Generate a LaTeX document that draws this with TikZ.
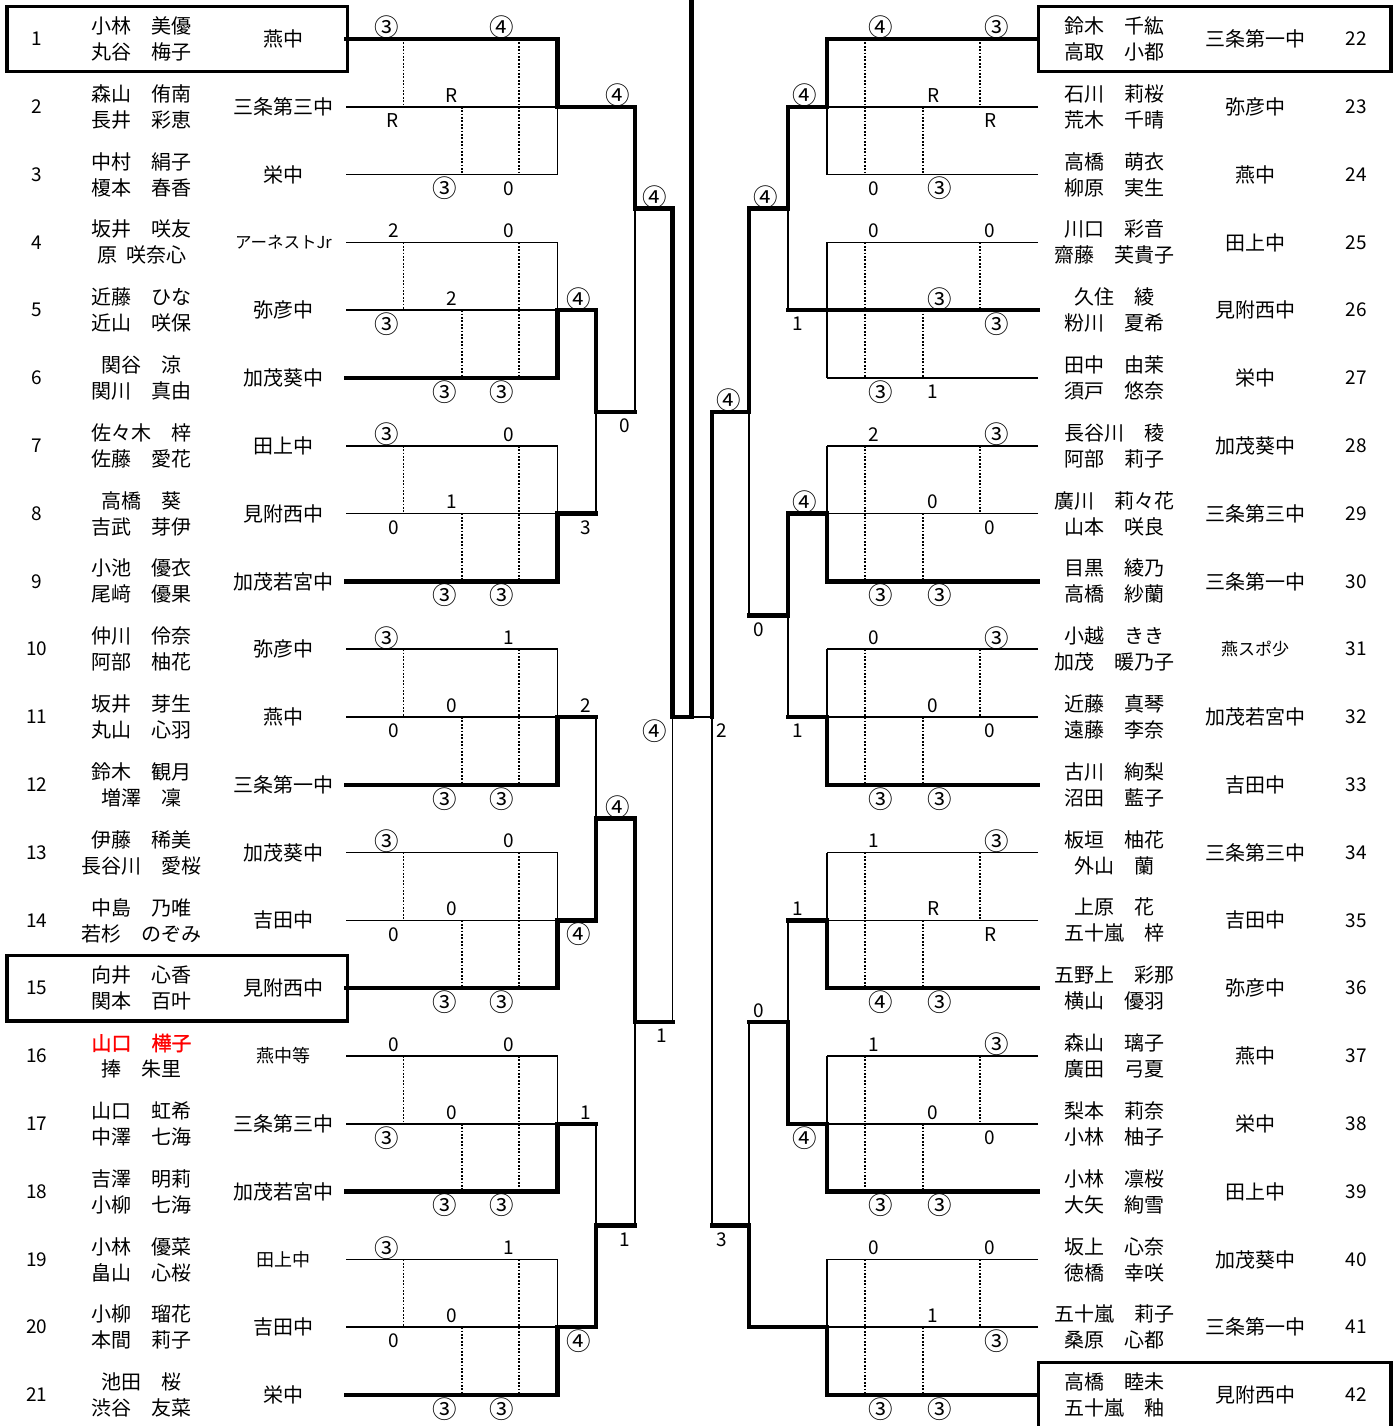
\documentclass[tikz,border=0pt]{standalone}
\usepackage{fontspec}
\setmainfont{Noto Sans CJK JP}
\newfontfamily\redfont[FakeBold=1.2]{Noto Sans CJK JP}
\newcommand\redname{\color{red}\redfont}
\newcommand\CThree{{\fontsize{24.5}{24.5}\selectfont ③}}
\newcommand\CFour{{\fontsize{24.5}{24.5}\selectfont ④}}
\tikzset{
  thinln/.style={line width=1.5pt},
  winln/.style={line width=4.5pt, line join=miter, line cap=rect},
  dotln/.style={line width=1.6pt, dash pattern=on 1.8pt off 1.6pt},
  boxln/.style={line width=3.2pt},
  namest/.style={align=center, font=\fontsize{20}{26}\selectfont, inner sep=0pt},
  schoolst/.style={font=\fontsize{20}{20}\selectfont, inner sep=0pt},
  numst/.style={font=\fontsize{19}{19}\selectfont, inner sep=0pt},
  scL/.style={anchor=east, font=\fontsize{19}{19}\selectfont, inner sep=0pt},
  scR/.style={anchor=west, font=\fontsize{19}{19}\selectfont, inner sep=0pt},
}
% left group: #1 top row, #2 t1, #3 t3, #4 m2, #5 m1, #6 b2, #7 b3
\newcommand\BrL[7]{%
  \pgfmathsetmacro\ya{39+(#1-1)*67.8}%
  \pgfmathsetmacro\yb{\ya+67.8}%
  \pgfmathsetmacro\yc{\ya+135.6}%
  \draw[thinln] (346,\ya) -- (557.5,\ya) (346,\yb) -- (557.5,\yb) (346,\yc) -- (557.5,\yc) (557.5,\ya) -- (557.5,\yc);
  \draw[dotln] (403.5,\ya) -- (403.5,\yb) (462,\yb) -- (462,\yc) (519,\ya) -- (519,\yc);
  \node[scL] (gL#1a) at (399,\ya-11.5) {#2};
  \node[scL] (gL#1b) at (514.5,\ya-11.5) {#3};
  \node[scL] (gL#1c) at (457.5,\yb-11.5) {#4};
  \node[scL] (gL#1d) at (399,\yb+14) {#5};
  \node[scL] (gL#1e) at (457.5,\yc+14) {#6};
  \node[scL] (gL#1f) at (514.5,\yc+14) {#7};
}
\newcommand\BrR[7]{%
  \pgfmathsetmacro\ya{39+(#1-22)*67.8}%
  \pgfmathsetmacro\yb{\ya+67.8}%
  \pgfmathsetmacro\yc{\ya+135.6}%
  \draw[thinln] (1038,\ya) -- (827,\ya) (1038,\yb) -- (827,\yb) (1038,\yc) -- (827,\yc) (827,\ya) -- (827,\yc);
  \draw[dotln] (980,\ya) -- (980,\yb) (923,\yb) -- (923,\yc) (865,\ya) -- (865,\yc);
  \node[scR] (gR#1a) at (984,\ya-11.5) {#2};
  \node[scR] (gR#1b) at (868.5,\ya-11.5) {#3};
  \node[scR] (gR#1c) at (927,\yb-11.5) {#4};
  \node[scR] (gR#1d) at (984,\yb+14) {#5};
  \node[scR] (gR#1e) at (927,\yc+14) {#6};
  \node[scR] (gR#1f) at (868.5,\yc+14) {#7};
}
\begin{document}
\begin{tikzpicture}[x=1pt,y=-1pt]
\useasboundingbox (0,0) rectangle (1398,1426);
% ---------- entries left
\foreach \n/\nmA/\nmB/\schl in {
1/小林　美優/丸谷　梅子/燕中,
2/森山　侑南/長井　彩恵/三条第三中,
3/中村　絹子/榎本　春香/栄中,
4/坂井　咲友/{{原\hspace{0.45em}咲奈心}}/{{\fontsize{16.5}{16.5}\selectfont アーネストJr}},
5/近藤　ひな/近山　咲保/弥彦中,
6/関谷　涼/関川　真由/加茂葵中,
7/佐々木　梓/佐藤　愛花/田上中,
8/高橋　葵/吉武　芽伊/見附西中,
9/小池　優衣/尾﨑　優果/加茂若宮中,
10/仲川　伶奈/阿部　柚花/弥彦中,
11/坂井　芽生/丸山　心羽/燕中,
12/鈴木　観月/増澤　凜/三条第一中,
13/伊藤　稀美/長谷川　愛桜/加茂葵中,
14/中島　乃唯/若杉　のぞみ/吉田中,
15/向井　心香/関本　百叶/見附西中,
16/{{\redname 山口　樺子}}/捧　朱里/{{\fontsize{18}{18}\selectfont 燕中等}},
17/山口　虹希/中澤　七海/三条第三中,
18/吉澤　明莉/小柳　七海/加茂若宮中,
19/小林　優菜/畠山　心桜/{{\fontsize{18}{18}\selectfont 田上中}},
20/小柳　瑠花/本間　莉子/吉田中,
21/池田　桜/渋谷　友菜/栄中}{
  \pgfmathsetmacro\y{39+(\n-1)*67.8}
  \node[numst] (num\n) at (37,\y) {\n};
  \node[namest] (name\n) at (141.5,\y) {\nmA\\\nmB};
  \node[schoolst] (sch\n) at (283.5,\y) {\schl};
}
% ---------- entries right
\foreach \n/\nmA/\nmB/\schl in {
22/鈴木　千紘/高取　小都/三条第一中,
23/石川　莉桜/荒木　千晴/弥彦中,
24/高橋　萌衣/柳原　実生/燕中,
25/川口　彩音/齋藤　芙貴子/田上中,
26/久住　綾/粉川　夏希/見附西中,
27/田中　由茉/須戸　悠奈/栄中,
28/長谷川　稜/阿部　莉子/加茂葵中,
29/廣川　莉々花/山本　咲良/三条第三中,
30/目黒　綾乃/高橋　紗蘭/三条第一中,
31/小越　きき/加茂　暖乃子/{{\fontsize{17}{17}\selectfont 燕スポ少}},
32/近藤　真琴/遠藤　李奈/加茂若宮中,
33/古川　絢梨/沼田　藍子/吉田中,
34/板垣　柚花/外山　蘭/三条第三中,
35/上原　花/五十嵐　梓/吉田中,
36/五野上　彩那/横山　優羽/弥彦中,
37/森山　璃子/廣田　弓夏/燕中,
38/梨本　莉奈/小林　柚子/栄中,
39/小林　凛桜/大矢　絢雪/田上中,
40/坂上　心奈/徳橋　幸咲/加茂葵中,
41/五十嵐　莉子/桑原　心都/三条第一中,
42/高橋　睦未/五十嵐　釉/見附西中}{
  \pgfmathsetmacro\y{39+(\n-22)*67.8}
  \node[numst] (num\n) at (1356,\y) {\n};
  \node[namest] (name\n) at (1114,\y) {\nmA\\\nmB};
  \node[schoolst] (sch\n) at (1255,\y) {\schl};
}
% ---------- boxes
\draw[boxln] (7,6.5) rectangle (347.5,71.5);
\draw[boxln] (7,955.5) rectangle (347.5,1021);
\draw[boxln] (1038.5,6.5) rectangle (1391,71.5);
\draw[boxln] (1038.5,1432) -- (1038.5,1362.5) -- (1391,1362.5) -- (1391,1432);
% ---------- groups
\BrL{1}{\CThree}{\CFour}{R}{R}{\CThree}{0}
\BrL{4}{2}{0}{2}{\CThree}{\CThree}{\CThree}
\BrL{7}{\CThree}{0}{1}{0}{\CThree}{\CThree}
\BrL{10}{\CThree}{1}{0}{0}{\CThree}{\CThree}
\BrL{13}{\CThree}{0}{0}{0}{\CThree}{\CThree}
\BrL{16}{0}{0}{0}{\CThree}{\CThree}{\CThree}
\BrL{19}{\CThree}{1}{0}{0}{\CThree}{\CThree}
\BrR{22}{\CThree}{\CFour}{R}{R}{\CThree}{0}
\BrR{25}{0}{0}{\CThree}{\CThree}{1}{\CThree}
\BrR{28}{\CThree}{2}{0}{0}{\CThree}{\CThree}
\BrR{31}{\CThree}{0}{0}{0}{\CThree}{\CThree}
\BrR{34}{\CThree}{1}{R}{R}{\CThree}{\CFour}
\BrR{37}{\CThree}{1}{0}{0}{\CThree}{\CThree}
\BrR{40}{0}{0}{1}{\CThree}{\CThree}{\CThree}
% ---------- thin junction lines, left
\draw[thinln]
 (557.5,106.8)--(635,106.8)
 (557.5,310.2)--(596,310.2) (557.5,513.6)--(596,513.6)
 (557.5,717)--(596,717) (557.5,920.4)--(596,920.4)
 (557.5,1123.8)--(596,1123.8) (557.5,1327.2)--(596,1327.2)
 (596,310.2)--(596,513.6) (596,717)--(596,920.4) (596,1123.8)--(596,1327.2)
 (596,411.9)--(635,411.9) (596,818.7)--(635,818.7) (596,1225.5)--(635,1225.5)
 (635,106.8)--(635,411.9) (635,818.7)--(635,1225.5)
 (635,208.5)--(672.5,208.5) (635,1022.1)--(672.5,1022.1)
 (672.5,208.5)--(672.5,1022.1)
 (672.5,717)--(712,717);
% ---------- thin junction lines, right
\draw[thinln]
 (827,106.8)--(788,106.8) (827,310.2)--(788,310.2)
 (827,513.6)--(788,513.6) (827,717)--(788,717)
 (827,920.4)--(788,920.4) (827,1123.8)--(788,1123.8)
 (827,1327.2)--(749,1327.2)
 (788,106.8)--(788,310.2) (788,513.6)--(788,717) (788,920.4)--(788,1123.8)
 (788,208.5)--(749,208.5) (788,615.3)--(749,615.3) (788,1022.1)--(749,1022.1)
 (749,208.5)--(749,615.3) (749,1022.1)--(749,1327.2)
 (749,411.9)--(712,411.9) (749,1225.5)--(712,1225.5)
 (712,411.9)--(712,1225.5);
% ---------- winner paths, left
\draw[winln] (346,39)--(557.5,39)--(557.5,106.8)--(635,106.8)--(635,208.5)--(672.5,208.5)--(672.5,717)--(691.5,717);
\draw[winln] (346,378)--(557.5,378)--(557.5,310.2)--(596,310.2)--(596,411.9)--(635,411.9);
\draw[winln] (346,581.4)--(557.5,581.4)--(557.5,513.6)--(596,513.6);
\draw[winln] (346,784.8)--(557.5,784.8)--(557.5,717)--(596,717);
\draw[winln] (346,988.2)--(557.5,988.2)--(557.5,920.4)--(596,920.4)--(596,818.7)--(635,818.7)--(635,1022.1)--(672.5,1022.1);
\draw[winln] (346,1191.6)--(557.5,1191.6)--(557.5,1123.8)--(596,1123.8);
\draw[winln] (346,1395)--(557.5,1395)--(557.5,1327.2)--(596,1327.2)--(596,1225.5)--(635,1225.5);
\draw[winln] (691.5,-3)--(691.5,717);
% ---------- winner paths, right
\draw[winln] (1038,39)--(827,39)--(827,106.8)--(788,106.8)--(788,208.5)--(749,208.5)--(749,411.9)--(712,411.9)--(712,717);
\draw[winln] (1038,310.2)--(788,310.2);
\draw[winln] (1038,581.4)--(827,581.4)--(827,513.6)--(788,513.6)--(788,615.3)--(749,615.3);
\draw[winln] (1038,784.8)--(827,784.8)--(827,717)--(788,717);
\draw[winln] (1038,988.2)--(827,988.2)--(827,920.4)--(788,920.4);
\draw[winln] (1038,1191.6)--(827,1191.6)--(827,1123.8)--(788,1123.8)--(788,1022.1)--(749,1022.1);
\draw[winln] (1038,1395)--(827,1395)--(827,1327.2)--(749,1327.2)--(749,1225.5)--(712,1225.5);
% ---------- junction scores, left
\node[scL] (jl1) at (591,298.7) {\CFour};
\node[scL] (jl2) at (591,527.6) {3};
\node[scL] (jl3) at (591,705.5) {2};
\node[scL] (jl4) at (591,934.4) {\CFour};
\node[scL] (jl5) at (591,1112.3) {1};
\node[scL] (jl6) at (591,1341.2) {\CFour};
\node[scL] (jl7) at (630,95.3) {\CFour};
\node[scL] (jl8) at (630,425.9) {0};
\node[scL] (jl9) at (630,807.2) {\CFour};
\node[scL] (jl10) at (630,1239.5) {1};
\node[scL] (jl11) at (667.5,197) {\CFour};
\node[scL] (jl12) at (667.5,1036.1) {1};
\node[scL] (jl13) at (667.5,731) {\CFour};
% ---------- junction scores, right
\node[scR] (jr0) at (716,731) {2};
\node[scR] (jr1) at (792,95.3) {\CFour};
\node[scR] (jr2) at (792,324.2) {1};
\node[scR] (jr3) at (792,502.1) {\CFour};
\node[scR] (jr4) at (792,731) {1};
\node[scR] (jr5) at (792,908.9) {1};
\node[scR] (jr6) at (792,1137.8) {\CFour};
\node[scR] (jr7) at (753,197) {\CFour};
\node[scR] (jr8) at (753,629.3) {0};
\node[scR] (jr9) at (753,1010.6) {0};
\node[scR] (jr10) at (716,400.4) {\CFour};
\node[scR] (jr11) at (716,1239.5) {3};
\end{tikzpicture}
\end{document}
